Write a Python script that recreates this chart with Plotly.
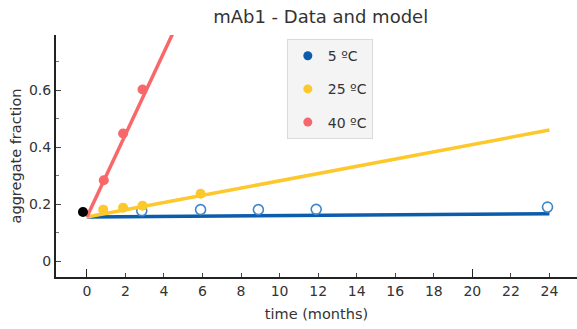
import plotly.graph_objects as go

# ---- data ----
model_t = [0, 24]
model_5 = [0.155, 0.167]
model_25 = [0.155, 0.46]
model_40 = [0.155, 3.62]

t_init = [-0.2]
y_init = [0.173]

t_5 = [2.85, 5.9, 8.9, 11.9, 23.9]
y_5 = [0.177, 0.181, 0.181, 0.182, 0.19]

t_25 = [0.85, 1.88, 2.89, 5.9]
y_25 = [0.181, 0.188, 0.195, 0.237]

t_40 = [0.88, 1.88, 2.89]
y_40 = [0.284, 0.448, 0.602]

legend_names = ["5 ºC", "25 ºC", "40 ºC"]
x_ticks = list(range(0, 25, 2))

BLUE = "#0b5cab"
BLUE_LIGHT = "#3d87cc"
YELLOW = "#fdc82c"
RED = "#f8686a"
FONT = "DejaVu Sans"

fig = go.Figure()

fig.add_trace(go.Scatter(x=model_t, y=model_5, mode="lines",
                         line=dict(color=BLUE, width=3.5), showlegend=False))
fig.add_trace(go.Scatter(x=t_5, y=y_5, mode="markers",
                         marker=dict(symbol="circle-open", size=10, color=BLUE_LIGHT,
                                     line=dict(width=1.6, color=BLUE_LIGHT)),
                         showlegend=False))
fig.add_trace(go.Scatter(x=model_t, y=model_25, mode="lines",
                         line=dict(color=YELLOW, width=3.5), showlegend=False))
fig.add_trace(go.Scatter(x=t_25, y=y_25, mode="markers",
                         marker=dict(size=10, color=YELLOW), showlegend=False))
fig.add_trace(go.Scatter(x=model_t, y=model_40, mode="lines",
                         line=dict(color=RED, width=3.5), showlegend=False))
fig.add_trace(go.Scatter(x=t_40, y=y_40, mode="markers",
                         marker=dict(size=10, color=RED), showlegend=False))
fig.add_trace(go.Scatter(x=t_init, y=y_init, mode="markers",
                         marker=dict(size=10, color="black"), showlegend=False))

for name, col in zip(legend_names, [BLUE, YELLOW, RED]):
    fig.add_trace(go.Scatter(x=[None], y=[None], mode="markers", name=name,
                             legendgroup=name,
                             marker=dict(size=9, color=col)))

# taller major ticks at 0 and 20
fig.add_trace(go.Scatter(x=[None], y=[None], xaxis="x2", showlegend=False))

fig.update_layout(
    width=577, height=329,
    margin=dict(l=56, r=0, t=35, b=52),
    paper_bgcolor="white", plot_bgcolor="white",
    font=dict(family=FONT, size=14, color="#333333"),
    title=dict(text="mAb1 - Data and model", x=0.508, xref="paper",
               y=0.948, yref="container", yanchor="middle",
               font=dict(family=FONT, size=18, color="#333333")),
    xaxis=dict(range=[-1.6, 25.43], tickvals=x_ticks, ticks="inside", ticklen=4,
               tickcolor="#444444", showline=True, linecolor="#222222", linewidth=2,
               showgrid=False, zeroline=False,
               tickfont=dict(family=FONT, size=14, color="#333333"),
               title=dict(text="time (months)", standoff=11,
                          font=dict(family=FONT, size=14.5, color="#333333"))),
    xaxis2=dict(range=[-1.6, 25.43], overlaying="x", side="bottom",
                tickvals=[0, 20], ticks="inside", ticklen=8, tickcolor="#222222",
                showticklabels=False, showgrid=False, zeroline=False, showline=False),
    yaxis=dict(range=[-0.055, 0.793], tickvals=[0, 0.2, 0.4, 0.6],
               ticktext=["0", "0.2", "0.4", "0.6"],
               ticks="inside", ticklen=5, tickcolor="#444444",
               minor=dict(dtick=0.1, tick0=0, ticks="inside", ticklen=3, tickcolor="#777777"),
               showline=True, linecolor="#222222", linewidth=2,
               showgrid=False, zeroline=False,
               tickfont=dict(family=FONT, size=14, color="#333333"),
               title=dict(text="aggregate fraction", standoff=4,
                          font=dict(family=FONT, size=14.5, color="#333333"))),
    legend=dict(x=0.443, y=0.983, xanchor="left", yanchor="top",
                bgcolor="#f4f4f4", bordercolor="#dadada", borderwidth=1,
                font=dict(family=FONT, size=14, color="#333333"),
                tracegroupgap=12, itemwidth=30),
)

fig.write_html("out.html")
